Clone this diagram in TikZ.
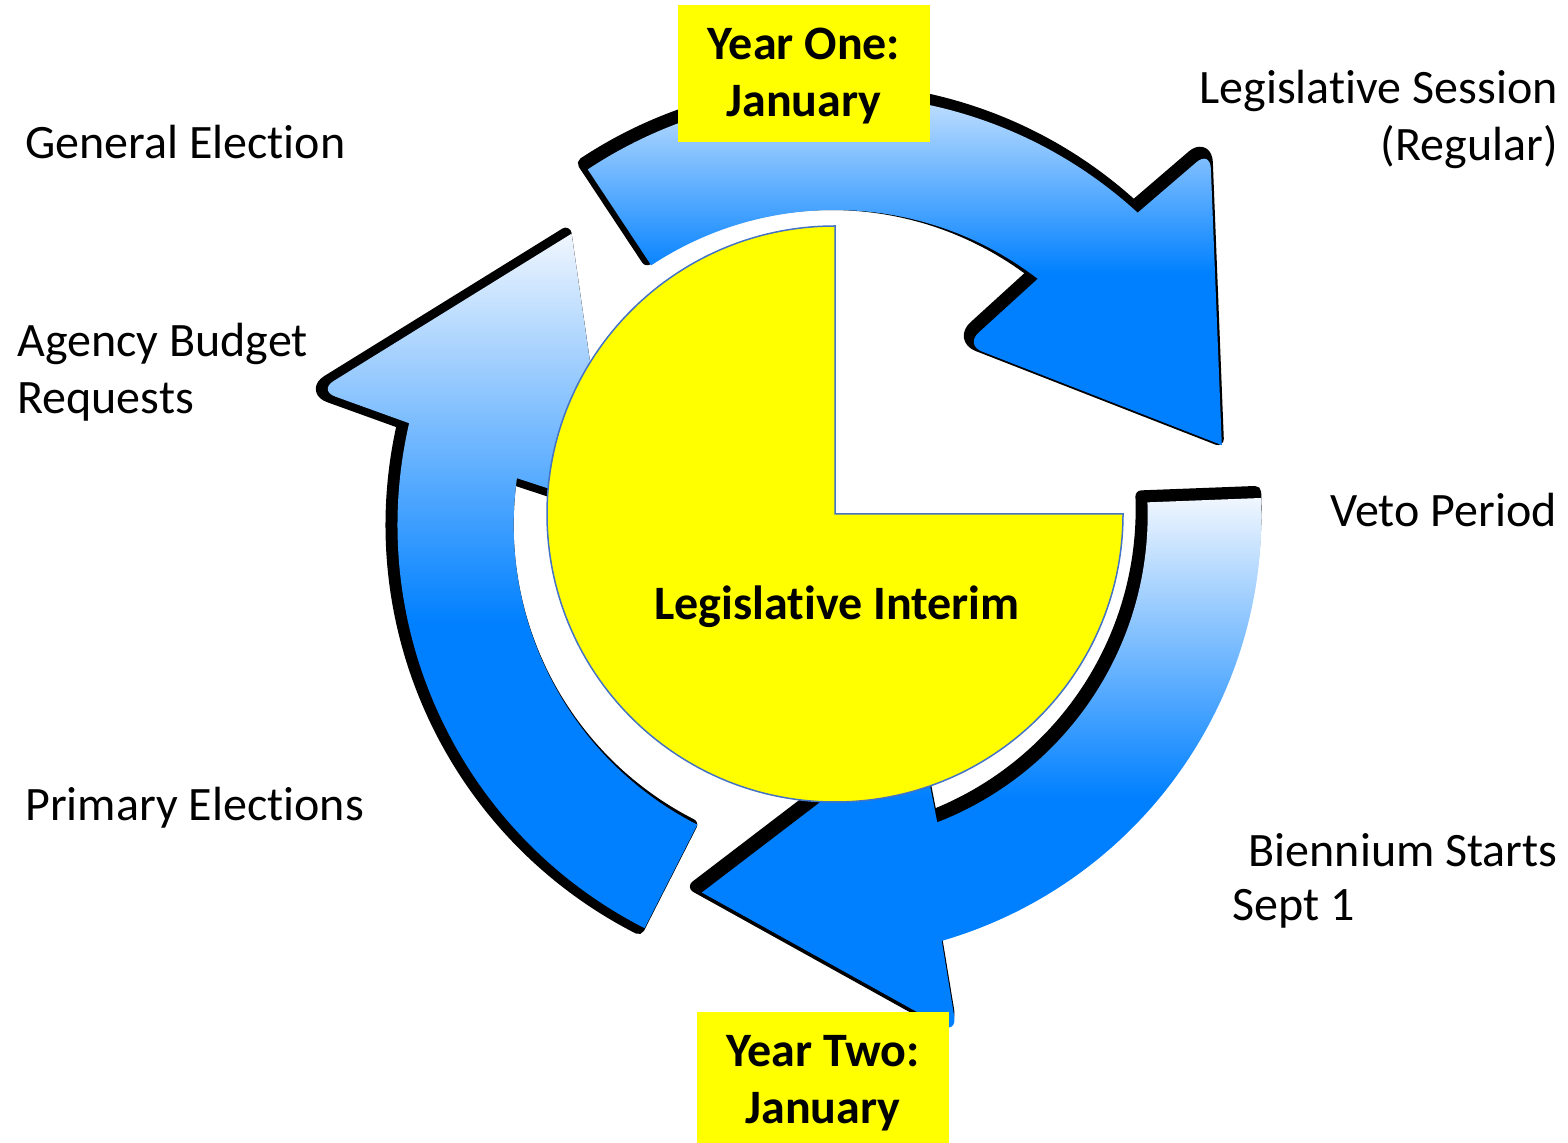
\documentclass[tikz,border=0pt]{standalone}
\usepackage{fontspec}
\setmainfont{Carlito}[Ligatures=NoCommon]

\definecolor{cycblue}{RGB}{0,128,255}
\definecolor{cyclight}{RGB}{240,246,254}
\definecolor{pieline}{RGB}{68,114,196}
\definecolor{pieyellow}{RGB}{255,255,0}
\pgfdeclareverticalshading{cycleshade}{100bp}{color(0bp)=(cycblue); color(47bp)=(cycblue); color(75bp)=(cyclight); color(100bp)=(cyclight)}

\begin{document}
\begin{tikzpicture}[x=0.5pt,y=-0.5pt,
   lbl/.style={font=\fontsize{24}{28.5}\selectfont, inner sep=0pt, align=left},
   yearbox/.style={fill=pieyellow, font=\bfseries\fontsize{24}{28.5}\selectfont, align=center,
      minimum width=126pt, minimum height=68.5pt, inner sep=0pt, text height=48pt, text depth=5pt},
   arrowshadow/.style={fill=black, draw=black, line width=6pt, line join=round},
   pics/cyclearrow/.style n args={2}{code={
      \pgfmathsetmacro\angB{#1+76}
      \pgfmathsetmacro\angF{#1+77.2}
      \pgfmathsetmacro\angT{#1+109.3}
      \pgfmathsetmacro\angI{#1+66.8}
      \pgfmathsetmacro\angN{#1+71}
      \path[shade, shading=cycleshade, preaction={arrowshadow, transform canvas={shift={#2}}}]
         (#1:448) arc[start angle=#1, end angle=\angB, radius=448]
         [rounded corners=9pt] -- (\angF:543) [sharp corners] -- (\angT:399)
         [rounded corners=9pt] -- (\angI:237) [sharp corners] -- (\angN:333)
         arc[start angle=\angN, end angle=#1, radius=333] -- cycle;
   }}]

\useasboundingbox (0,0) rectangle (1568,1143);

% the three arrows of the cycle
\pic[scale=1.01] at (850,525) {cyclearrow={117}{(-6,0)}};
\pic at (835,543) {cyclearrow={-123.5}{(-4,-6)}};
\pic[scale=0.99] at (818,515) {cyclearrow={-2.2}{(-6,-6)}};

% interim pie
\path[fill=pieyellow, draw=pieline, line width=0.75pt]
   (835,514) -- (835,226) arc[start angle=-90, end angle=-360, radius=288] -- cycle;
\node[font=\bfseries\fontsize{24}{28.5}\selectfont] (interim) at (837,607) {Legislative Interim};

\node[yearbox] (yearone) at (804,73.5) {Year One:\\January};
\node[yearbox] (yeartwo) at (823,1080.5) {Year Two:\\January};

\node[lbl, anchor=west] (genelec) at (25,142) {General Election};
\node[lbl, anchor=west] (budget) at (17,372) {Agency Budget\\Requests};
\node[lbl, anchor=west] (primary) at (25,808) {Primary Elections};
\node[lbl, anchor=east, align=right] (session) at (1558,119) {Legislative Session\\(Regular)};
\node[lbl, anchor=east] (veto) at (1557,510) {Veto Period};
\node[lbl, anchor=east] (biennium) at (1558,850) {Biennium Starts};
\node[lbl, anchor=west] (sept) at (1232,909) {Sept 1};

\end{tikzpicture}
\end{document}
